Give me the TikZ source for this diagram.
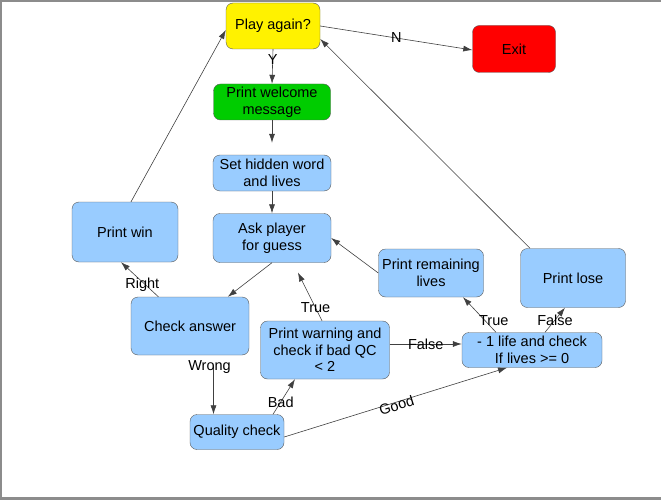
\documentclass[tikz,border=0pt]{standalone}
\usepackage{fontspec}
\setmainfont{Liberation Sans}
\usetikzlibrary{arrows.meta}

\definecolor{boxblue}{HTML}{99CCFF}
\definecolor{boxgreen}{HTML}{00CC00}
\definecolor{framegray}{HTML}{8C8C8C}

\tikzset{
	box/.style={draw=black!65, rounded corners=7pt, fill=boxblue, align=center,
		inner sep=1pt, font=\fontsize{14.5}{16.6}\selectfont},
	link/.style={->, draw=black!75, line width=0.6pt},
	lbl/.style={font=\fontsize{14.5}{16.6}\selectfont, inner sep=1pt}
}

\begin{document}
\begin{tikzpicture}[x=1pt, y=-1pt, >={Latex[length=9pt,width=6pt]}]
			\useasboundingbox (0,0) rectangle (661,500);
			% frame
			\draw[framegray, line width=2pt] (0,1) -- (661,1);
			\draw[framegray, line width=2pt] (1,0) -- (1,500);
			\draw[framegray, line width=3pt] (0,498) -- (661,498);

			% boxes
			\node[box, fill=yellow, minimum width=94pt, minimum height=46pt] (play) at (273,26) {Play again?};
			\node[box, fill=red, minimum width=83pt, minimum height=47pt] (exit) at (514,49) {Exit};
			\node[box, fill=boxgreen, minimum width=117pt, minimum height=36pt] (welcome) at (272,102) {Print welcome\\message};
			\node[box, minimum width=118pt, minimum height=36pt] (hidden) at (272,173) {Set hidden word\\and lives};
			\node[box, minimum width=118pt, minimum height=49pt] (ask) at (272,238) {Ask player\\for guess};
			\node[box, minimum width=106pt, minimum height=60pt] (win) at (125,232) {Print win};
			\node[box, minimum width=105pt, minimum height=48pt] (remain) at (431,273) {Print remaining\\lives};
			\node[box, minimum width=105pt, minimum height=59pt] (lose) at (573,278) {Print lose};
			\node[box, minimum width=118pt, minimum height=58pt] (check) at (190,326) {Check answer};
			\node[box, minimum width=129pt, minimum height=58pt] (warn) at (325,350) {Print warning and\\check if bad QC\\< 2};
			\node[box, minimum width=140pt, minimum height=35pt] (life) at (532,350) {- 1 life and check\\If lives >= 0};
			\node[box, minimum width=94pt, minimum height=35pt] (qc) at (237,432) {Quality check};

			% connectors
			\draw[link] (play.east) -- ([yshift=-1pt]exit.west) node[lbl, pos=0.5]{N};
			\draw[link] (play.south) -- (welcome.north) node[lbl, pos=0.3]{Y};
			\draw[link, shorten >=12pt] (welcome.south) -- (hidden.north);
			\draw[link] (hidden.south) -- (ask.north);
			\draw[link] (ask.south) -- (check);
			\draw[link] (check) -- ([xshift=-4pt]win.south) node[lbl, pos=0.35, xshift=-3pt]{Right};
			\draw[link] ([xshift=6pt]win.north) -- ([yshift=-4pt]play.west);
			\draw[link, shorten <=12pt] ([xshift=23.5pt]check.south) -- ([xshift=-23.5pt]qc.north)
				node[lbl, pos=0.2, xshift=-4pt]{Wrong};
			\draw[link] ([xshift=36pt]qc.north) -- ([xshift=-30pt]warn.south) node[lbl, pos=0.35]{Bad};
			\draw[link] ([yshift=-5pt]qc.east) -- ([xshift=-25pt]life.south)
				node[lbl, pos=0.5, sloped, yshift=-3pt]{Good};
			\draw[link, shorten >=11pt] ([xshift=-3pt]warn.north) -- ([xshift=21pt]ask.south)
				node[lbl, pos=0.22]{True};
			\draw[link] ([yshift=6pt]warn.east) -- ([yshift=6pt]life.west) node[lbl, pos=0.5]{False};
			\draw[link] ([xshift=-36pt]life.north) -- ([xshift=32pt]remain.south)
				node[lbl, pos=0.34, xshift=9pt]{True};
			\draw[link] ([xshift=13pt]life.north) -- ([xshift=-8pt]lose.south) node[lbl, pos=0.5]{False};
			\draw[link] (remain.west) -- (ask.east);
			\draw[link] ([xshift=-43pt]lose.north) -- ([yshift=-13pt]play.east);
		\end{tikzpicture}
\end{document}
